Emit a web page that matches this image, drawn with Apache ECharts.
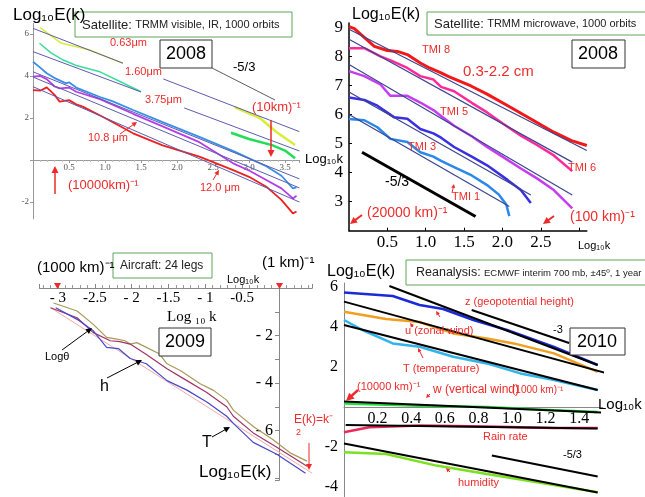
<!DOCTYPE html>
<html>
<head>
<meta charset="utf-8">
<script src="https://cdn.jsdelivr.net/npm/echarts@6/dist/echarts.min.js"></script>
<style>
  html, body { margin: 0; padding: 0; background: #fff; }
  #chart { width: 645px; height: 497px; }
</style>
</head>
<body>
<div id="chart"></div>
<script>
// ---- panel 1: TRMM visible / IR (log10 k, log10 E)
const vis063a = [[0.1,6.3],[0.39,5.57],[0.79,5.24],[1.25,4.6]];
const vis063b = [[2.8,2.52],[3.15,2.0],[3.38,1.33],[3.64,0.71]];
const ir160a = [[0.09,5.56],[0.25,5.1],[0.42,4.76],[0.6,4.5],[0.93,4.2],[1.2,3.75],[1.5,3.25]];
const ir160b = [[2.75,1.3],[3.0,1.0],[3.32,0.71],[3.5,0.45],[3.64,0.08]];
const ir375 = [[0,4.68],[0.1,4.4],[0.19,4.13],[0.3,3.9],[0.46,3.65],[0.5,3.7],[0.6,3.45],[0.93,3.0],[1.1,2.8],[1.39,2.38],[1.8,1.8],[2.31,1.1],[2.8,0.4],[3.24,-0.3],[3.45,-0.75],[3.61,-1.35],[3.66,-1.3]];
const ir108 = [[0,3.97],[0.1,4.0],[0.19,3.85],[0.3,3.5],[0.37,3.41],[0.5,3.45],[0.6,3.25],[0.93,2.9],[1.39,2.2],[1.8,1.6],[2.31,0.85],[2.78,-0.16],[3.0,-0.5],[3.24,-0.95],[3.45,-1.35],[3.61,-1.83],[3.66,-1.7]];
const ir120 = [[0,3.33],[0.1,3.3],[0.19,3.46],[0.3,3.1],[0.37,2.78],[0.5,2.85],[0.6,2.65],[0.69,2.54],[1.0,2.0],[1.39,1.27],[1.8,0.7],[2.31,0.16],[2.78,-0.48],[3.0,-0.8],[3.24,-1.27],[3.45,-1.9],[3.61,-2.54],[3.66,-2.45]];
const visFits = [
  [[0,6.27],[1.25,4.61]], [[1.81,3.86],[3.7,1.35]],
  [[0,5.16],[1.5,3.24]], [[2.1,2.48],[3.7,0.43]],
  [[0,4.2],[3.7,-0.9]], [[0,3.95],[3.7,-1.33]], [[0,3.49],[3.7,-2.0]]
];

// ---- panel 2: TRMM microwave
const tmi8 = [[0,9.02],[0.07,8.95],[0.33,8.34],[0.5,8.2],[0.63,8.17],[0.76,8.06],[0.93,7.77],[1.05,7.6],[1.2,7.43],[1.3,7.3],[1.59,6.98],[1.8,6.7],[2.07,6.3],[2.4,5.8],[2.67,5.39],[2.9,5.1],[3.1,4.93]];
const tmi6 = [[0,8.28],[0.2,8.28],[0.41,8.0],[0.55,7.85],[0.76,7.6],[0.93,7.32],[1.1,7.2],[1.2,6.95],[1.37,6.8],[1.6,6.4],[1.8,6.07],[2.0,5.7],[2.24,5.27],[2.45,4.95],[2.67,4.59],[2.91,4.05]];
const tmi5 = [[0,7.49],[0.2,7.32],[0.41,7.03],[0.54,6.64],[0.76,6.64],[0.93,6.41],[1.1,6.15],[1.2,5.95],[1.37,5.61],[1.6,5.25],[1.8,4.88],[2.0,4.55],[2.24,4.14],[2.45,3.8],[2.67,3.4],[2.91,2.77]];
const tmi3 = [[0,6.58],[0.2,6.5],[0.37,6.3],[0.59,5.9],[0.76,5.85],[0.93,5.5],[1.1,5.35],[1.2,5.2],[1.37,4.88],[1.6,4.55],[1.8,4.25],[2.07,3.74],[2.24,3.4],[2.37,2.95]];
const tmi1 = [[0,5.84],[0.2,5.8],[0.37,5.56],[0.54,5.16],[0.76,5.05],[0.93,4.7],[1.1,4.55],[1.2,4.4],[1.37,4.19],[1.6,3.9],[1.8,3.57],[1.95,3.25],[2.05,2.9],[2.09,2.5]];
const tmiFits = [[[0,8.93],[3.1,4.76]], [[0,8.59],[2.91,4.36]], [[0,7.72],[2.91,3.23]], [[0,6.77],[2.37,3.23]], [[0,6.0],[2.09,2.83]]];
const tmiSlope = [[0.17,4.7],[1.65,2.49]];

// ---- panel 3: aircraft
const logTheta = [[-3.06,-0.63],[-2.74,-0.97],[-2.52,-1.53],[-2.34,-2.08],[-2.2,-2.15],[-2.09,-2.22],[-2.02,-2.36],[-1.93,-2.3],[-1.8,-2.5],[-1.62,-2.78],[-1.52,-3.19],[-1.34,-3.47],[-1.07,-4.03],[-0.89,-4.31],[-0.71,-4.72],[-0.62,-5.14],[-0.35,-5.83],[-0.08,-6.39],[0.15,-6.94],[0.38,-7.29]];
const hAir = [[-3.1,-0.83],[-2.74,-1.25],[-2.52,-1.88],[-2.29,-2.22],[-2.16,-2.26],[-2.02,-2.36],[-1.8,-2.8],[-1.52,-3.4],[-1.25,-3.9],[-0.98,-4.4],[-0.71,-5.0],[-0.62,-5.4],[-0.35,-6.1],[-0.03,-6.7],[0.38,-7.5]];
const tAir = [[-3.03,-0.83],[-2.74,-1.32],[-2.52,-1.8],[-2.34,-2.5],[-2.18,-2.55],[-2.02,-2.97],[-1.8,-3.19],[-1.52,-3.9],[-1.25,-4.3],[-0.98,-4.8],[-0.71,-5.4],[-0.62,-5.7],[-0.35,-6.5],[-0.03,-7.0],[0.36,-7.8]];
const airRef = [[-3.1,-0.83],[0.45,-7.8]];

// ---- panel 4: reanalysis
const zGeo = [[0,5.72],[0.29,5.55],[0.45,5.1],[0.59,4.9],[0.77,4.35],[0.97,3.85],[1.25,3.0],[1.51,2.1]];
const uWind = [[0,4.76],[0.25,4.4],[0.45,4.25],[0.65,3.68],[0.85,3.43],[1.01,3.18],[1.25,2.68],[1.51,1.76]];
const tTemp = [[0,4.35],[0.11,3.85],[0.29,3.18],[0.45,3.01],[0.65,2.51],[0.85,2.18],[1.05,1.68],[1.25,1.35],[1.51,0.85]];
const wWind = [[0,0.18],[0.45,0.06],[0.85,0.0],[1.25,-0.16],[1.51,-0.25]];
const rain = [[0,-1.26],[0.15,-1.01],[0.45,-0.93],[0.85,-0.97],[1.25,-1.05],[1.51,-1.05]];
const humid = [[0,-2.26],[0.25,-2.35],[0.55,-2.93],[0.85,-3.35],[1.15,-3.76],[1.51,-4.26]];
const eraFits = [[[0.27,6.05],[1.51,2.1]], [[0.76,4.85],[1.34,3.2]], [[0,5.27],[1.55,1.72]], [[0,4.1],[1.51,0.85]], [[0,0.27],[1.53,-0.28]], [[0.01,-0.9],[1.51,-1.08]], [[0,-1.82],[1.51,-4.28]], [[0.88,-2.43],[1.51,-3.48]]];

const SANS = '"Liberation Sans", Arial, sans-serif';
const SERIF = '"Liberation Serif", "Times New Roman", serif';
const RED = '#ee2a2a';

function line(gi, data, color, width, z) {
  return {type: 'line', xAxisIndex: gi, yAxisIndex: gi, data: data, symbol: 'none', silent: true,
    lineStyle: {color: color, width: width}, z: z || 2};
}

// annotations
const g = [];
function txt(x, y, s, size, color, extra) {
  g.push({type: 'text', x: x, y: y, z: 20, style: Object.assign({text: s, fontSize: size, fill: color || '#000',
    fontFamily: SANS, verticalAlign: 'middle'}, extra || {})});
}
function box(x1, y1, x2, y2, stroke, w) {
  g.push({type: 'rect', z: 19, shape: {x: x1, y: y1, width: x2 - x1, height: y2 - y1},
    style: {fill: '#fff', stroke: stroke, lineWidth: w || 1}});
}
function seg(x1, y1, x2, y2, color, w) {
  g.push({type: 'line', z: 20, shape: {x1: x1, y1: y1, x2: x2, y2: y2}, style: {stroke: color, lineWidth: w}});
}
function arrow(x1, y1, x2, y2, color, w, h) {
  h = h || 6;
  const a = Math.atan2(y2 - y1, x2 - x1), c = Math.cos(a), s = Math.sin(a);
  seg(x1, y1, x2 - c * h * 0.8, y2 - s * h * 0.8, color, w);
  g.push({type: 'polygon', z: 20, shape: {points: [[x2, y2],
    [x2 - c * h + s * h * 0.5, y2 - s * h - c * h * 0.5],
    [x2 - c * h - s * h * 0.5, y2 - s * h + c * h * 0.5]]}, style: {fill: color}});
}

// panel 1
txt(13, 15, 'Log₁₀E(k)', 17);
box(75, 12, 292, 37, '#5aa85a', 1);
txt(82, 25, '{a|Satellite:} {b|TRMM visible, IR, 1000 orbits}', 12, '#222', {rich: {a: {fontSize: 13, fontFamily: SANS}, b: {fontSize: 11, fontFamily: SANS}}});
box(160, 40, 212, 68, '#333', 1);
txt(186, 54, '2008', 18, '#000', {align: 'center'});
seg(212, 68, 275, 100, '#333', 0.8);
txt(233, 67, '-5/3', 13);
txt(110, 43, '0.63μm', 11, RED);
txt(125, 72, '1.60μm', 11, RED);
txt(145, 100, '3.75μm', 11, RED);
txt(88, 138, '10.8 μm', 11, RED);
arrow(120, 134, 137, 122, RED, 1, 5);
txt(200, 188, '12.0 μm', 11, RED);
arrow(213, 180, 219, 170, RED, 1, 5);
txt(68, 185, '(10000km)⁻¹', 13, RED);
arrow(55, 194, 55, 166, RED, 1.5, 7);
txt(252, 107, '(10km)⁻¹', 13, RED);
arrow(271, 120, 271, 157, RED, 1.5, 7);
txt(305, 159, 'Log₁₀k', 13);

// panel 2
txt(352, 15, 'Log₁₀E(k)', 16);
box(427, 12, 650, 35, '#5aa85a', 1);
txt(434, 24, '{a|Satellite:} {b|TRMM microwave, 1000 orbits}', 12, '#222', {rich: {a: {fontSize: 13, fontFamily: SANS}, b: {fontSize: 11, fontFamily: SANS}}});
box(572, 40, 625, 68, '#333', 1);
txt(598, 54, '2008', 18, '#000', {align: 'center'});
txt(422, 50, 'TMI 8', 11, RED);
txt(463, 72, '0.3-2.2 cm', 15, RED);
txt(440, 112, 'TMI 5', 11, RED);
txt(408, 147, 'TMI 3', 11, RED);
txt(452, 197, 'TMI 1', 11, RED);
arrow(452, 193, 454, 184, RED, 1, 4);
txt(568, 168, 'TMI 6', 11, RED);
txt(385, 182, '-5/3', 14);
txt(367, 213, '(20000 km)⁻¹', 14, RED);
arrow(362, 215, 350, 224, RED, 2, 7);
txt(570, 217, '(100 km)⁻¹', 14, RED);
arrow(554, 216, 543, 224, RED, 2, 7);
txt(578, 246, 'Log₁₀k', 11);

// panel 3
txt(37, 268, '(1000 km)⁻¹', 15);
box(113, 253, 212, 278, '#5aa85a', 1);
txt(120, 266, 'Aircraft: 24 legs', 12, '#222');
txt(262, 263, '(1 km)⁻¹', 15);
txt(227, 280, 'Log₁₀k', 11);
g.push({type: 'polygon', z: 20, shape: {points: [[54, 283], [61, 283], [57.5, 289]]}, style: {fill: RED}});
g.push({type: 'polygon', z: 20, shape: {points: [[276, 283], [283, 283], [279.5, 289]]}, style: {fill: RED}});
txt(167, 317, 'Log ₁₀ k', 15, '#000', {fontFamily: SERIF});
box(159, 328, 211, 356, '#333', 1);
txt(185, 342, '2009', 18, '#000', {align: 'center'});
txt(45, 357, 'Logθ', 11);
arrow(62, 350, 92, 328, '#000', 1, 6);
txt(100, 387, 'h', 16);
arrow(107, 378, 142, 360, '#000', 1, 6);
txt(202, 443, 'T', 16);
arrow(212, 437, 230, 427, '#000', 1, 6);
txt(199, 472, 'Log₁₀E(k)', 17);
txt(294, 420, 'E(k)=k⁻', 12, RED);
txt(296, 433, '2', 9, RED);
arrow(309, 443, 309, 470, RED, 1, 6);

// panel 4
txt(327, 272, 'Log₁₀E(k)', 16);
box(406, 260, 650, 285, '#5aa85a', 1);
txt(416, 273, '{a|Reanalysis:} {b|ECMWF interim 700 mb, ±45º, 1 year}', 12, '#222', {rich: {a: {fontSize: 12.5, fontFamily: SANS}, b: {fontSize: 9.5, fontFamily: SANS}}});
box(570, 328, 625, 355, '#333', 1);
txt(597, 342, '2010', 18, '#000', {align: 'center'});
txt(465, 302, 'z (geopotential height)', 11, RED);
arrow(440, 317, 436, 311, RED, 1, 4);
txt(405, 331, 'u (zonal wind)', 11, RED);
arrow(413, 327, 410, 323, RED, 1, 4);
txt(403, 369, 'T (temperature)', 11, RED);
arrow(423, 358, 418, 348, RED, 1, 4);
txt(357, 387, '(10000 km)⁻¹', 11, RED);
arrow(358, 390, 346, 401, RED, 2.5, 8);
txt(433, 390, 'w (vertical wind)', 12, RED);
arrow(430, 394, 426, 398, RED, 1, 4);
txt(512, 390, '(1000 km)⁻¹', 10, RED);
txt(483, 437, 'Rain rate', 11, RED);
txt(563, 455, '-5/3', 11);
txt(553, 330, '-3', 11);
txt(458, 483, 'humidity', 11, RED);
arrow(450, 472, 446, 468, RED, 1, 4);
txt(598, 405, 'Log₁₀k', 15);

function axisX(gi, o) {
  return Object.assign({gridIndex: gi, type: 'value', splitLine: {show: false}}, o);
}

const option = {
  animation: false,
  backgroundColor: '#fff',
  grid: [
    {left: 33, top: 23.5, width: 266.4, height: 195.3},
    {left: 349, top: 22.9, width: 237.8, height: 207.8},
    {left: 39.5, top: 288, width: 272.7, height: 192.4},
    {left: 344, top: 283, width: 258.7, height: 214}
  ],
  xAxis: [
    // x axis drawn through y = 0 (grid bottom is at y = -2.8)
    axisX(0, {min: 0, max: 3.7, interval: 0.5, position: 'bottom', offset: -58.8,
      axisLine: {onZero: false, lineStyle: {color: '#999'}},
      axisTick: {length: 3, lineStyle: {color: '#999'}}, minorTick: {show: true, splitNumber: 5, length: 2, lineStyle: {color: '#bbb'}},
      axisLabel: {fontSize: 9, fontFamily: SERIF, color: '#555', margin: 3, showMinLabel: false, showMaxLabel: false,
        formatter: v => v.toFixed(1)}}),
    axisX(1, {min: 0, max: 3.1, interval: 0.5, axisLine: {onZero: false, lineStyle: {color: '#000', width: 1.5}},
      axisTick: {length: 3, inside: true, lineStyle: {color: '#000'}},
      axisLabel: {fontSize: 17, fontFamily: SERIF, color: '#000', margin: 3, showMinLabel: false, showMaxLabel: false,
        formatter: v => (v === 0 || v === 3) ? '' : v.toFixed(1)}}),
    axisX(2, {min: -3.25, max: 0.45, splitNumber: 7, position: 'top',
      axisLine: {onZero: false, lineStyle: {color: '#888'}},
      axisTick: {length: 4, lineStyle: {color: '#888'}}, minorTick: {show: true, splitNumber: 5, length: 3, lineStyle: {color: '#999'}},
      axisLabel: {inside: true, fontSize: 15, fontFamily: SERIF, color: '#000', margin: 3, showMinLabel: false, showMaxLabel: false,
        formatter: v => v === 0 ? '' : (Number.isInteger(v) ? '- ' + (-v) : String(v))}}),
    // x axis drawn through y = 0 (grid bottom is at y = -4.5)
    axisX(3, {min: 0, max: 1.54, interval: 0.2, position: 'bottom', offset: -90,
      axisLine: {onZero: false, lineStyle: {color: '#888'}},
      axisTick: {show: false},
      axisLabel: {fontSize: 16, fontFamily: SERIF, color: '#000', margin: 4, showMinLabel: false, showMaxLabel: false,
        formatter: v => v.toFixed(1)}})
  ],
  yAxis: [
    {gridIndex: 0, type: 'value', min: -2.8, max: 6.5, splitNumber: 5, splitLine: {show: false},
      axisLine: {show: true, onZero: false, lineStyle: {color: '#999'}}, axisTick: {show: true, length: 3, lineStyle: {color: '#999'}},
      axisLabel: {fontSize: 9, fontFamily: SERIF, color: '#555', margin: 4, showMinLabel: false, showMaxLabel: false,
        formatter: v => v === 0 ? '' : String(v)}},
    {gridIndex: 1, type: 'value', min: 2, max: 9.15, interval: 1, splitLine: {show: false},
      axisLine: {show: true, onZero: false, lineStyle: {color: '#000', width: 1.5}}, axisTick: {show: true, length: 3, inside: true, lineStyle: {color: '#000'}},
      axisLabel: {fontSize: 17, fontFamily: SERIF, color: '#000', margin: 6, showMinLabel: false, showMaxLabel: false}},
    // y axis drawn through x = 0 (grid left is at x = -3.25)
    {gridIndex: 2, type: 'value', min: -8.1, max: 0, splitNumber: 5, position: 'left', offset: -239.5, splitLine: {show: false},
      axisLine: {show: true, onZero: false, lineStyle: {color: '#888'}}, axisTick: {show: true, length: 4, lineStyle: {color: '#888'}},
      minorTick: {show: true, splitNumber: 2, length: 4, lineStyle: {color: '#888'}},
      axisLabel: {fontSize: 16, fontFamily: SERIF, color: '#000', margin: 6, showMinLabel: false, showMaxLabel: false,
        formatter: v => (v < -1 && v > -7) ? '- ' + (-v) : ''}},
    {gridIndex: 3, type: 'value', min: -4.5, max: 6.2, splitNumber: 5, splitLine: {show: false},
      axisLine: {show: true, onZero: false, lineStyle: {color: '#888'}}, axisTick: {show: false},
      axisLabel: {fontSize: 16, fontFamily: SERIF, color: '#000', margin: 6, showMinLabel: false, showMaxLabel: false,
        formatter: v => v === 0 ? '' : String(v)}}
  ],
  series: [
    line(0, vis063a, '#d8ec3a', 1.5), line(0, vis063b, '#d8ec3a', 2.5),
    line(0, ir160a, '#3ddc9a', 1.5), line(0, ir160b, '#22dd55', 2.5),
    line(0, ir375, '#3a8ee8', 1.8), line(0, ir108, '#b43ee6', 1.8), line(0, ir120, '#ee2020', 1.8),
    ...visFits.map(d => line(0, d, '#5c5cb0', 1, 5)),

    line(1, tmi8, '#f01818', 3), line(1, tmi6, '#ff2a9a', 2.5), line(1, tmi5, '#c83cf0', 2.5),
    line(1, tmi3, '#3a30e0', 2.5), line(1, tmi1, '#2a88ea', 2.5),
    ...tmiFits.map(d => line(1, d, '#3a4490', 1.2, 5)),
    line(1, tmiSlope, '#000', 3, 5),

    line(2, airRef, '#f4a8a8', 1, 1), line(2, logTheta, '#a89a58', 1.2), line(2, hAir, '#a03466', 1.2), line(2, tAir, '#4848c8', 1.2),

    line(3, zGeo, '#1a2ad8', 2.5), line(3, uWind, '#f0a020', 2.5), line(3, tTemp, '#30b4ea', 2.5),
    line(3, wWind, '#22e040', 2.5), line(3, rain, '#ea2a5a', 2.5), line(3, humid, '#7ae020', 2.5),
    ...eraFits.map(d => line(3, d, '#000', 2, 5))
  ],
  graphic: g
};

const chart = echarts.init(document.getElementById('chart'));
chart.setOption(option);
</script>
</body>
</html>
